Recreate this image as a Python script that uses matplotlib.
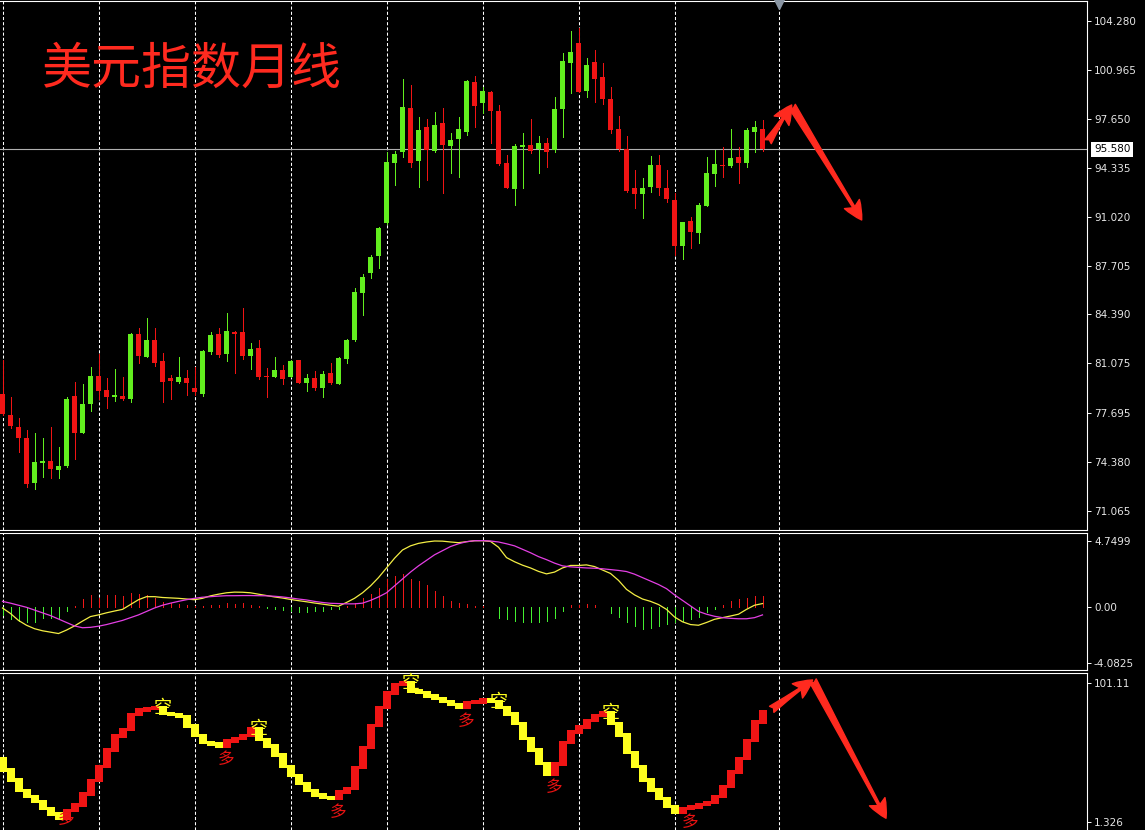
import numpy as np
import matplotlib.pyplot as plt

# === monthly candles (bar 0 .. 95) ===
opens = [78.99, 77.57, 76.76, 76.03, 72.98, 74.34, 74.45, 73.84, 74.12, 78.86,
         76.37, 78.30, 80.22, 79.27, 78.77, 78.86, 78.66, 83.06, 81.52, 82.66,
         81.23, 80.08, 79.81, 80.06, 79.38, 78.98, 81.86, 83.06, 81.69, 83.23,
         83.18, 81.59, 82.09, 80.20, 80.17, 80.62, 80.17, 81.27, 79.76, 80.06,
         79.42, 80.40, 79.67, 81.35, 82.66, 85.86, 87.22, 88.35, 90.57, 94.68,
         95.42, 98.36, 94.81, 97.07, 95.47, 97.35, 95.81, 96.26, 96.78, 100.14,
         98.74, 99.50, 98.18, 94.63, 92.89, 95.76, 95.85, 95.60, 95.99, 95.54,
         98.32, 101.45, 102.81, 99.56, 101.52, 100.50, 98.99, 96.98, 95.58, 92.94,
         92.55, 93.05, 94.52, 92.94, 92.15, 89.03, 90.72, 89.93, 91.76, 93.91,
         94.52, 94.47, 95.08, 94.63, 96.78, 96.98]
highs = [81.30, 78.81, 77.35, 76.56, 76.33, 75.99, 76.74, 75.42, 78.77, 79.83,
         79.67, 80.85, 81.71, 80.06, 80.67, 80.17, 83.15, 83.45, 84.13, 83.45,
         81.75, 80.28, 81.48, 80.62, 80.85, 81.98, 83.22, 83.45, 84.47, 83.27,
         84.80, 82.47, 82.66, 80.74, 81.48, 80.96, 81.30, 81.30, 80.35, 80.57,
         80.55, 81.08, 81.52, 82.70, 86.16, 87.13, 88.42, 90.30, 95.42, 95.49,
         100.33, 99.94, 97.75, 97.62, 98.11, 98.36, 96.71, 97.79, 100.28, 100.55,
         99.83, 99.54, 98.59, 95.20, 95.94, 96.67, 97.62, 96.49, 96.33, 99.11,
         102.09, 103.62, 103.79, 101.75, 102.31, 101.41, 99.83, 97.84, 96.49, 94.18,
         93.62, 95.13, 95.20, 94.18, 92.64, 90.65, 90.97, 91.96, 95.04, 95.54,
         95.76, 96.96, 95.76, 97.01, 97.52, 97.57]
lows = [77.57, 76.67, 75.08, 72.71, 72.54, 73.39, 73.32, 73.32, 74.07, 74.57,
        76.37, 77.86, 78.64, 78.03, 78.54, 78.59, 78.47, 81.08, 81.48, 80.89,
        78.47, 78.64, 79.76, 78.93, 78.93, 78.86, 81.71, 81.52, 81.23, 80.44,
        81.35, 80.67, 79.99, 78.81, 80.13, 79.67, 80.13, 79.71, 79.22, 79.27,
        78.77, 79.67, 79.67, 81.08, 82.62, 84.35, 86.84, 87.52, 90.55, 93.16,
        95.04, 94.36, 93.05, 93.50, 95.42, 92.60, 93.96, 93.73, 96.55, 97.07,
        98.02, 95.99, 94.55, 92.93, 91.81, 92.94, 95.31, 93.96, 94.40, 95.42,
        96.44, 99.38, 99.47, 99.15, 98.81, 98.65, 96.71, 95.47, 92.72, 91.58,
        90.90, 92.71, 92.49, 92.03, 88.42, 88.13, 88.87, 89.21, 91.74, 93.12,
        93.69, 94.40, 93.28, 94.40, 95.42, 95.47]
closes = [77.64, 76.83, 76.00, 72.89, 74.39, 74.45, 73.89, 74.12, 78.66, 76.37,
          78.30, 80.22, 79.22, 78.77, 78.93, 78.66, 83.06, 81.57, 82.66, 81.12,
          79.83, 79.90, 80.13, 79.76, 79.15, 81.91, 83.00, 81.64, 83.27, 83.06,
          81.59, 82.03, 80.17, 80.15, 80.62, 80.01, 81.23, 79.72, 80.06, 79.38,
          80.35, 79.72, 81.45, 82.66, 85.93, 86.91, 88.30, 90.23, 94.70, 95.26,
          98.43, 94.68, 96.89, 95.54, 97.21, 95.87, 96.21, 96.94, 100.21, 98.52,
          99.54, 98.18, 94.59, 92.94, 95.83, 95.85, 95.49, 95.99, 95.42, 98.32,
          101.57, 102.18, 99.49, 101.30, 100.33, 98.99, 96.89, 95.60, 92.76, 92.55,
          92.98, 94.52, 92.98, 92.19, 89.03, 90.65, 90.00, 91.81, 93.96, 94.57,
          94.45, 95.01, 94.68, 96.89, 97.07, 95.58]

# === MACD panel ===
macd_line = [-0.1, -0.5, -1.0, -1.35, -1.6, -1.75, -1.85, -1.95, -1.7, -1.4,
             -1.05, -0.72, -0.6, -0.45, -0.32, -0.2, 0.15, 0.5, 0.72, 0.72,
             0.66, 0.63, 0.6, 0.55, 0.5, 0.6, 0.78, 0.9, 1.0, 1.05,
             1.04, 1.0, 0.9, 0.8, 0.7, 0.62, 0.52, 0.43, 0.35, 0.26,
             0.18, 0.1, 0.03, 0.3, 0.6, 1.0, 1.5, 2.1, 2.8, 3.5,
             4.1, 4.4, 4.58, 4.68, 4.75, 4.74, 4.68, 4.63, 4.7, 4.77,
             4.77, 4.72, 4.3, 3.55, 3.25, 3.0, 2.8, 2.55, 2.37, 2.5,
             2.8, 2.98, 2.98, 3.02, 2.9, 2.65, 2.4, 1.9, 1.25, 0.85,
             0.55, 0.38, 0.15, -0.2, -0.75, -1.1, -1.3, -1.35, -1.15, -0.92,
             -0.8, -0.68, -0.55, -0.2, 0.1, 0.22]
signal_line = [0.38, 0.25, 0.1, -0.05, -0.25, -0.45, -0.65, -0.9, -1.15, -1.4,
               -1.53, -1.5, -1.42, -1.3, -1.15, -1.0, -0.8, -0.6, -0.35, -0.1,
               0.1, 0.25, 0.38, 0.5, 0.6, 0.68, 0.72, 0.76, 0.79, 0.79,
               0.8, 0.8, 0.79, 0.78, 0.75, 0.7, 0.63, 0.55, 0.48, 0.38,
               0.3, 0.24, 0.22, 0.2, 0.2, 0.25, 0.45, 0.7, 1.0, 1.5,
               2.0, 2.5, 2.95, 3.35, 3.75, 4.05, 4.35, 4.55, 4.7, 4.77,
               4.78, 4.75, 4.68, 4.55, 4.4, 4.15, 3.9, 3.62, 3.4, 3.15,
               2.95, 2.88, 2.84, 2.8, 2.78, 2.74, 2.68, 2.62, 2.54, 2.35,
               2.1, 1.85, 1.6, 1.3, 0.85, 0.45, 0.05, -0.35, -0.55, -0.7,
               -0.8, -0.85, -0.88, -0.88, -0.8, -0.6]
macd_hist = [-0.62, -0.91, -1.03, -1.1, -1.1, -0.86, -0.79, -0.86, -0.31, 0.02,
             0.53, 0.82, 0.65, 0.82, 0.82, 0.77, 0.96, 0.89, 0.82, 0.65,
             0.34, 0.29, 0.17, 0.1, 0.05, 0.05, 0.14, 0.12, 0.29, 0.19,
             0.24, 0.1, 0.05, -0.1, -0.19, -0.24, -0.31, -0.38, -0.38, -0.31,
             -0.31, -0.19, -0.14, 0.05, 0.29, 0.65, 0.89, 1.37, 1.97, 2.2,
             2.33, 1.97, 1.85, 1.6, 1.13, 0.77, 0.41, 0.29, 0.17, 0.05,
             0.02, -0.05, -0.79, -0.91, -1.03, -1.1, -1.15, -1.15, -1.03, -0.79,
             -0.31, 0.14, 0.14, 0.17, 0.14, 0.0, -0.43, -0.72, -1.15, -1.44,
             -1.63, -1.56, -1.39, -1.27, -1.15, -1.03, -0.91, -0.72, -0.38, -0.14,
             0.14, 0.41, 0.53, 0.65, 0.77, 0.77]

# === step indicator panel ===
step_start = 47.0
step_levels = [38.65, 31.47, 23.82, 19.51, 15.92, 11.13, 7.06, 3.95, 9.46, 13.53,
               21.42, 31.0, 41.05, 53.01, 63.06, 67.85, 78.61, 81.72, 82.92, 83.16,
               79.33, 78.37, 76.94, 70.24, 63.30, 58.51, 57.32, 55.88, 59.47, 61.14,
               63.54, 68.08, 60.67, 55.88, 49.42, 41.28, 34.58, 29.08, 23.81, 20.70,
               19.03, 18.07, 22.86, 25.25, 40.33, 54.68, 70.72, 83.40, 93.93, 100.15,
               101.35, 95.36, 94.17, 91.77, 90.10, 87.71, 85.55, 83.64, 86.99, 87.47,
               89.14, 87.71, 83.64, 78.85, 72.15, 61.38, 53.01, 43.44, 35.78, 42.96,
               58.51, 65.93, 69.52, 74.31, 77.89, 79.81, 72.15, 63.78, 51.09, 41.04,
               31.47, 24.29, 18.31, 12.33, 8.02, 10.89, 12.09, 14.00, 15.20, 19.75,
               26.92, 37.21, 46.79, 59.95, 73.11, 80.29]
kong_bars = [20, 32, 51, 62, 76]       # 空
duo_bars = [8, 28, 42, 58, 69, 86]     # 多

# axis ticks (as shown on the MT4 scale)
price_ticks = [104.280, 100.965, 97.650, 94.335, 91.020, 87.705, 84.390,
               81.075, 77.695, 74.380, 71.065]
macd_ticks = [4.7499, 0.00, -4.0825]
step_ticks = [101.11, 1.326]
grid_bars = [0, 12, 24, 36, 48, 60, 72, 84, 97]

# hand drawn arrows: (start, tip) in bar / value units
price_arrows = [((95.7, 96.10), (98.65, 98.59)), ((98.7, 98.50), (107.4, 90.79))]
step_arrows = [((96.15, 82.2), (101.27, 103.3)), ((101.3, 102.8), (110.44, 4.0))]

W, H = 1145, 830
BG = 'black'
GREEN = '#62ee1e'
RED = '#f01414'
YELLOW = '#ffff1e'
ARROW = '#ff2a1f'
PX = 0.72  # one pixel in points

plt.rcParams['font.family'] = ['DejaVu Sans']
fig = plt.figure(figsize=(W / 100, H / 100), dpi=100, facecolor=BG)
right = 1087 / W
ax1 = fig.add_axes([0, 1 - 530 / H, right, 529 / H], facecolor=BG)
ax2 = fig.add_axes([0, 1 - 670 / H, right, 137 / H], facecolor=BG)
ax3 = fig.add_axes([0, 0, right, 157 / H], facecolor=BG)

x = np.arange(len(closes))
xlim = (-0.3125, (1087 - 2.5) / 8)

for ax in (ax1, ax2, ax3):
    ax.set_xlim(*xlim)
    ax.set_xticks([])
    ax.yaxis.tick_right()
    ax.tick_params(axis='y', direction='out', length=3, width=0.7, color='white',
                   pad=2, labelsize=7.5, labelcolor='#e6e6e6')
    for s in ('top', 'right', 'bottom'):
        ax.spines[s].set_color('white')
        ax.spines[s].set_linewidth(0.8)
    ax.spines['left'].set_visible(False)
    for g in grid_bars:
        ax.axvline(g, color='white', lw=0.75, ls=(0, (3, 2)), zorder=1)
ax3.spines['bottom'].set_visible(False)

# === main candles ===
o = np.array(opens)
c = np.array(closes)
up = c >= o
cols = np.where(up, GREEN, RED)
ax1.vlines(x, lows, highs, colors=cols, lw=PX, antialiased=False, zorder=3)
body_low = np.minimum(o, c)
body_h = np.maximum(np.abs(c - o), 0.07)
ax1.bar(x, body_h, bottom=body_low, width=0.62, color=cols, linewidth=0, zorder=4)
ax1.axhline(closes[-1], color='#b0b0b0', lw=0.8, zorder=2)
ax1.set_ylim(69.777, 105.636)
ax1.set_yticks(price_ticks)
ax1.set_yticklabels([f'{t:.3f}' for t in price_ticks])
ax1.annotate(f'{closes[-1]:.3f}', xy=(1, closes[-1]), xycoords=('axes fraction', 'data'),
             xytext=(5, 0), textcoords='offset points', va='center', ha='left',
             fontsize=7.5, color='black', annotation_clip=False,
             bbox=dict(boxstyle='square,pad=0.25', fc='white', ec='none'))
ax1.plot([97], [105.45], marker='v', ms=7, color='#8a96a4', clip_on=False, zorder=5)

arrow_style = 'fancy,head_length=0.75,head_width=0.7,tail_width=0.3'
for (s, t) in price_arrows:
    ax1.annotate('', xy=t, xytext=s,
                 arrowprops=dict(arrowstyle=arrow_style, color=ARROW,
                                 mutation_scale=18, shrinkA=0, shrinkB=0), zorder=6)

fig.text(42 / W, 1 - 70 / H, '美元指数月线', fontsize=36, color=ARROW,
         family=['Noto Sans CJK SC', 'DejaVu Sans'], va='center', ha='left')

# === MACD ===
hist = np.array(macd_hist)
ax2.vlines(x, 0, hist, colors=np.where(hist >= 0, '#f01818', '#44f030'),
           lw=PX, antialiased=False, zorder=2)
ax2.plot(x, macd_line, color='#f4ee44', lw=0.9, zorder=3)
ax2.plot(x, signal_line, color='#e43fe4', lw=0.9, zorder=3)
ax2.set_ylim(-4.59, 5.33)
ax2.set_yticks(macd_ticks)
ax2.set_yticklabels(['4.7499', '0.00', '-4.0825'])

# === step indicator ===
lv = np.array(step_levels)
prev = np.concatenate([[step_start], lv[:-1]])
pad = 1.2
scol = np.where(lv > prev, RED, YELLOW)
ax3.bar(x, np.abs(lv - prev) + 2 * pad, bottom=np.minimum(lv, prev) - pad,
        width=1.0, color=scol, linewidth=0, zorder=3)
cjk = ['Noto Sans CJK SC', 'DejaVu Sans']
for k in kong_bars:
    ax3.text(k, lv[k - 1], '空', color=YELLOW, fontsize=13, family=cjk,
             ha='center', va='center', zorder=5)
for k in duo_bars:
    # keep the lowest label inside the panel
    off = -10 if lv[k - 1] > 10 else -1
    ax3.annotate('多', xy=(k, lv[k - 1]), xytext=(0, off), textcoords='offset points',
                 color='#e81212', fontsize=12, family=cjk, ha='center', va='center',
                 annotation_clip=False, zorder=5)
for (s, t) in step_arrows:
    ax3.annotate('', xy=t, xytext=s,
                 arrowprops=dict(arrowstyle=arrow_style, color=ARROW,
                                 mutation_scale=18, shrinkA=0, shrinkB=0), zorder=6)
ax3.set_ylim(-4.42, 108.29)
ax3.set_yticks(step_ticks)
ax3.set_yticklabels(['101.11', '1.326'])

fig.savefig('out.png', dpi=100, facecolor=BG)
